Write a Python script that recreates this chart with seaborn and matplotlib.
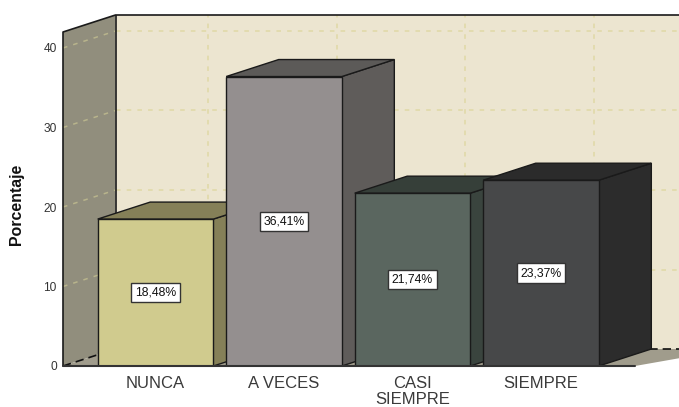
import matplotlib
matplotlib.use("Agg")
import matplotlib.pyplot as plt
from matplotlib.patches import Polygon
import seaborn as sns

# valores
categorias = ["NUNCA", "A VECES", "CASI\nSIEMPRE", "SIEMPRE"]
porcentajes = [18.48, 36.41, 21.74, 23.37]
etiquetas = ["18,48%", "36,41%", "21,74%", "23,37%"]
marcas_y = [0, 10, 20, 30, 40]

col_frente = ["#D0CB8E", "#948F8F", "#5A665F", "#474849"]
col_techo = ["#858058", "#5C5A58", "#363F39", "#2B2B2B"]
col_lado = ["#858058", "#5F5C5A", "#3A443E", "#2C2C2C"]
col_pared = "#ECE5D0"
col_lateral = "#918E7D"
col_suelo = "#A09C8C"
col_rejilla = "#E0D8A6"
col_rejilla_lat = "#B8B48C"
col_borde = "#1A1A1A"

sns.set_style("white")
plt.rcParams["font.family"] = ["Liberation Sans", "DejaVu Sans"]

W, H = 679, 407
fig = plt.figure(figsize=(W / 100, H / 100), dpi=100)
ax = fig.add_axes([63 / W, (H - 366) / H, (W - 63) / W, 351 / H])

sns.barplot(x=categorias, y=porcentajes, hue=categorias, palette=col_frente,
            width=0.9, saturation=1, edgecolor=col_borde, linewidth=1.0,
            legend=False, ax=ax)

# escala: 128.5 px por categoria, 7.95 px por punto
x0 = -92.5 / 128.5
x1 = x0 + (W - 63) / 128.5
y1 = 351 / 7.95
ax.set_xlim(x0, x1)
ax.set_ylim(0, y1)
dx = 52.5 / 128.5
dy = 17 / 7.95

# paredes y suelo
xa = x0 + dx
ax.add_patch(Polygon([(xa, dy), (x1, dy), (x1, y1), (xa, y1)], fc=col_pared, ec="none", zorder=1))
ax.add_patch(Polygon([(x0, 0), (xa, dy), (xa, y1), (x0, y1 - dy)], fc=col_lateral, ec="none", zorder=1))
ax.add_patch(Polygon([(x0, 0), (xa, dy), (x1 + dx, dy), (x1 - 44 / 128.5, 0)], fc=col_suelo, ec="none", zorder=1))

# rejilla
for v in marcas_y[1:]:
    ax.plot([xa, x1], [v + dy, v + dy], color=col_rejilla, lw=1.1, ls=(0, (3, 4)), zorder=2)
    ax.plot([x0, xa], [v, v + dy], color=col_rejilla_lat, lw=1.1, ls=(0, (3, 4)), zorder=2)
for i in range(len(categorias)):
    ax.plot([i + dx, i + dx], [dy, y1], color=col_rejilla, lw=1.1, ls=(0, (3, 4)), zorder=2)

# bordes de la caja
ax.plot([x0, x0, xa, x1], [0, y1 - dy, y1, y1], color=col_borde, lw=1.2, zorder=3, clip_on=False)
ax.plot([xa, xa], [dy, y1], color=col_borde, lw=1.2, zorder=3)
ax.plot([x0, xa], [0, dy], color="#111111", lw=1.2, ls=(0, (5, 3)), zorder=3)
ax.plot([xa, x1], [dy, dy], color="#111111", lw=1.2, ls=(0, (5, 3)), zorder=2.5)
ax.plot([x0, x1 - 44 / 128.5], [0, 0], color="#333333", lw=1.5, zorder=30, clip_on=False)

# caras 3D a partir de las barras de seaborn
for i, b in enumerate(ax.patches[:len(categorias)]):
    l, r, t = b.get_x(), b.get_x() + b.get_width(), b.get_height()
    z = 5 + i * 3
    ax.add_patch(Polygon([(r, 0), (r + dx, dy), (r + dx, t + dy), (r, t)],
                         fc=col_lado[i], ec=col_borde, lw=1.0, zorder=z))
    ax.add_patch(Polygon([(l, t), (l + dx, t + dy), (r + dx, t + dy), (r, t)],
                         fc=col_techo[i], ec=col_borde, lw=1.0, zorder=z))
    b.set_zorder(z + 1)
    ax.annotate(etiquetas[i], ((l + r) / 2, t / 2), ha="center", va="center",
                fontsize=8.8, color="#111111", zorder=40,
                bbox=dict(boxstyle="square,pad=0.3", fc="white", ec="#333333", lw=1))

ax.set_yticks(marcas_y)
ax.set_xticks(range(len(categorias)))
ax.set_xticklabels(categorias, fontsize=12, color="#3A3A3A", linespacing=1.08)
ax.tick_params(axis="x", length=0, pad=7)
ax.tick_params(axis="y", length=0, pad=4.5, labelsize=8.6, labelcolor="#333333")
ax.set_ylabel("Porcentaje", fontsize=11.4, fontweight="bold", color="#111111")
ax.yaxis.set_label_coords(-39 / (W - 63), (366 - 204) / 351)
sns.despine(ax=ax, left=True, bottom=True, top=True, right=True)

fig.savefig("out.png", dpi=100)
